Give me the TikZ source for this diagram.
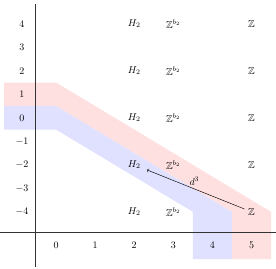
\documentclass[tikz,border=0pt]{standalone}
\usepackage{amssymb}
\begin{document}
\begin{tikzpicture}[x=1pt,y=-1pt,
  axisline/.style={line width=0.5pt,black!80},
  redband/.style={fill=red!12,draw=none},
  blueband/.style={fill=blue!12,draw=none},
  entry/.style={inner sep=3.33pt},
  lbl/.style={inner sep=2pt}]
\useasboundingbox (0,0) rectangle (276,268);
\def\cx#1{56+39.1*(#1)}
\def\ry#1{117.8-23.5*(#1)}
% bands
\fill[redband] (4,{\ry{1.5}}) -- ({\cx{0}},{\ry{1.5}}) -- ({\cx{5.5}},{\ry{-4}}) -- ({\cx{5.5}},259)
  -- ({\cx{4.5}},259) -- ({\cx{4.5}},{\ry{-4}}) -- ({\cx{0}},{\ry{0.5}}) -- (4,{\ry{0.5}}) -- cycle;
\fill[blueband] (4,{\ry{0.5}}) -- ({\cx{0}},{\ry{0.5}}) -- ({\cx{4.5}},{\ry{-4}}) -- ({\cx{4.5}},259)
  -- ({\cx{3.5}},259) -- ({\cx{3.5}},{\ry{-4}}) -- ({\cx{0}},{\ry{-0.5}}) -- (4,{\ry{-0.5}}) -- cycle;
% axes
\coordinate (vtop) at (35,4);
\coordinate (vbot) at (35,267);
\coordinate (hleft) at (0,232.3);
\coordinate (hright) at (276,232.3);
\draw[axisline] (vtop) -- (vbot);
\draw[axisline] (hleft) -- (hright);
% row labels
\foreach \r/\n in {4/ra,3/rb,2/rc,1/rd,0/re,-1/rf,-2/rg,-3/rh,-4/ri}
  \node[lbl] (\n) at (22,{\ry{\r}}) {$\r$};
% column labels
\foreach \c/\n in {0/ca,1/cb,2/cc,3/cd,4/ce,5/cf}
  \node[lbl] (\n) at ({\cx{\c}},245) {$\c$};
% entries
\foreach \r/\n in {4/a,2/b,0/c,-2/d,-4/e}{
  \node[entry] (h\n) at ({\cx{2}},{\ry{\r}}) {$H_2$};
  \node[entry] (b\n) at ({\cx{3}},{\ry{\r}}) {$\mathbb{Z}^{b_2}$};
  \node[entry] (z\n) at ({\cx{5}},{\ry{\r}}) {$\mathbb{Z}$};
}
% differential
\draw[->,line width=0.45pt,shorten >=3pt] (ze) -- node[above=0pt] {$d^3$} (hd);
\end{tikzpicture}
\end{document}
